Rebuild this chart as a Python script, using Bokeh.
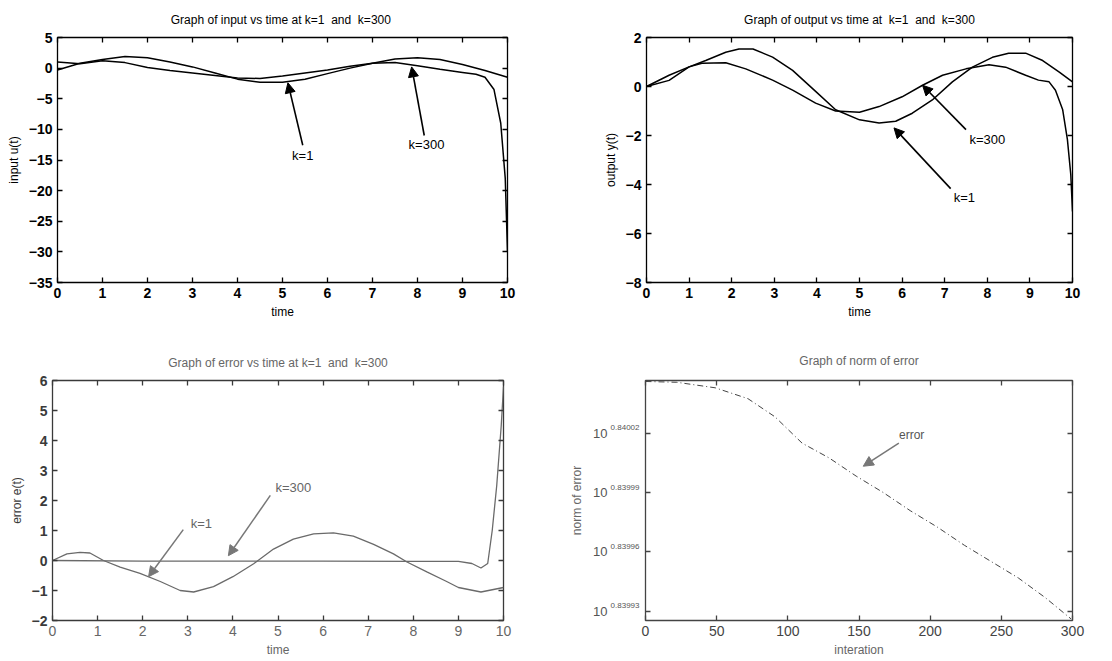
from bokeh.plotting import figure
from bokeh.models import (LinearAxis, LogAxis, Label, Arrow, NormalHead, FixedTicker, Range1d,
                          CustomLabelingPolicy)
from bokeh.layouts import column, row
from bokeh.embed import file_html
from bokeh.resources import INLINE

# ---------------- data ----------------
# input u(t)
t_u1 = [0, 0.5, 1.0, 1.5, 2.0, 2.5, 3.0, 3.5, 4.0, 4.5, 5.0, 5.5, 6.0, 6.5, 7.0, 7.5, 8.0, 8.5, 9.0, 9.5, 10.0]
u_k1 = [-0.3, 0.8, 1.4, 1.9, 1.7, 1.0, 0.2, -0.8, -1.8, -2.3, -2.3, -1.8, -0.9, 0.0, 0.8, 1.5, 1.7, 1.4, 0.6, -0.4, -1.5]
t_u300 = [0, 0.5, 1.0, 1.5, 2.0, 2.5, 3.0, 3.5, 4.0, 4.5, 5.0, 5.5, 6.0, 6.5, 7.0, 7.5, 8.0, 8.5, 9.0, 9.3, 9.5, 9.7, 9.85, 9.95, 10.0]
u_k300 = [1.0, 0.7, 1.2, 0.9, 0.1, -0.4, -0.8, -1.2, -1.6, -1.7, -1.3, -0.8, -0.3, 0.3, 0.8, 0.9, 0.4, -0.2, -0.7, -1.0, -1.5, -3.5, -9.0, -18.0, -30.0]

# output y(t)
t_y1 = [0, 0.53, 1.0, 1.39, 1.86, 2.17, 2.5, 2.96, 3.43, 3.97, 4.44, 5.0, 5.46, 5.85, 6.24, 6.71, 7.18, 7.65, 8.12, 8.5, 8.9, 9.3, 9.69, 10.0]
y_k1 = [0, 0.25, 0.8, 1.06, 1.4, 1.53, 1.53, 1.2, 0.66, -0.2, -0.95, -1.36, -1.49, -1.42, -1.09, -0.55, 0.19, 0.79, 1.19, 1.36, 1.36, 1.06, 0.59, 0.19]
t_y300 = [0, 0.53, 1.0, 1.3, 1.86, 2.33, 2.96, 3.43, 3.97, 4.44, 5.0, 5.46, 6.0, 6.48, 6.95, 7.5, 8.04, 8.43, 8.9, 9.2, 9.45, 9.6, 9.77, 9.88, 9.96, 10.0]
y_k300 = [0, 0.46, 0.8, 0.95, 0.97, 0.72, 0.26, -0.15, -0.68, -1.0, -1.05, -0.82, -0.42, 0.05, 0.46, 0.72, 0.89, 0.79, 0.46, 0.26, 0.19, -0.15, -0.95, -2.16, -3.6, -5.1]

# error e(t)
t_e1 = [0, 0.32, 0.61, 0.83, 1.13, 1.5, 1.94, 2.39, 2.83, 3.13, 3.57, 4.0, 4.46, 4.9, 5.34, 5.79, 6.23, 6.67, 7.12, 7.56, 7.86, 8.3, 8.74, 9.0, 9.5, 10.0]
e_k1 = [0, 0.22, 0.27, 0.25, 0, -0.22, -0.43, -0.7, -1.0, -1.05, -0.87, -0.54, -0.11, 0.38, 0.71, 0.89, 0.92, 0.81, 0.54, 0.22, -0.05, -0.38, -0.7, -0.9, -1.05, -0.9]
t_e300 = [0, 2.0, 4.0, 6.0, 8.0, 9.0, 9.3, 9.5, 9.65, 9.75, 9.85, 9.95, 10.0]
e_k300 = [0, -0.02, -0.02, -0.02, -0.03, -0.03, -0.1, -0.25, -0.1, 1.0, 2.5, 4.5, 5.8]

# norm of error (log10 exponent of the norm)
iteration = [0, 22, 49, 72, 91, 110, 129, 148, 167, 186, 205, 224, 243, 262, 281, 299]
norm_exp = [0.8400462, 0.8400458, 0.8400430, 0.8400375, 0.8400283, 0.8400150, 0.8400075, 0.8399983,
            0.8399900, 0.8399808, 0.8399725, 0.8399633, 0.8399550, 0.8399467, 0.8399367, 0.8399260]
norm_vals = [10 ** e for e in norm_exp]

time_ticks = [0, 1, 2, 3, 4, 5, 6, 7, 8, 9, 10]
u_ticks = [-35, -30, -25, -20, -15, -10, -5, 0, 5]
y_ticks = [-8, -6, -4, -2, 0, 2]
e_ticks = [-2, -1, 0, 1, 2, 3, 4, 5, 6]
iter_ticks = [0, 50, 100, 150, 200, 250, 300]
norm_tick_exp = [0.84002, 0.83999, 0.83996, 0.83993]
norm_tick_text = ["0.84002", "0.83999", "0.83996", "0.83993"]

FONT = "Liberation Sans"
NB = "\u00a0"


def no_labels():
    return CustomLabelingPolicy(code="""
        const ids = [];
        for (const i of indices) ids.push(i);
        for (const i of ids) indices.unset(i);
        return indices;
    """)


def make_fig(w, h, l, r, t, b, xr, yr, xt, yt, title, xlabel, ylabel,
             ink="black", tick_bold=True, log=False, title_standoff=0, ylabel_standoff=5):
    p = figure(width=w, height=h, x_range=Range1d(*xr), y_range=Range1d(*yr),
               y_axis_type="log" if log else "linear",
               output_backend="svg", toolbar_location=None,
               min_border_left=l, min_border_right=r, min_border_top=t, min_border_bottom=b,
               title=title)
    p.grid.visible = False
    p.outline_line_color = ink
    p.outline_line_width = 1.3
    p.outline_line_alpha = 1.0
    p.background_fill_color = "white"
    p.border_fill_color = "white"
    p.title.align = "center"
    p.title.text_font = FONT
    p.title.text_font_size = "12px"
    p.title.text_font_style = "normal"
    p.title.text_color = ink
    p.title.standoff = title_standoff
    p.xaxis.ticker = FixedTicker(ticks=xt)
    p.yaxis.ticker = FixedTicker(ticks=yt)
    p.xaxis.axis_label = xlabel
    p.yaxis.axis_label = ylabel
    for ax in p.xaxis + p.yaxis:
        ax.major_tick_in = 5
        ax.major_tick_out = 0
        ax.minor_tick_line_color = None
        ax.axis_line_color = None
        ax.major_tick_line_color = ink
        ax.major_tick_line_width = 1.3
        ax.major_label_text_font = FONT
        ax.major_label_text_font_size = "14px"
        ax.major_label_text_font_style = "bold" if tick_bold else "normal"
        ax.major_label_text_color = ink
        ax.major_label_standoff = 5
        ax.axis_label_text_font = FONT
        ax.axis_label_text_font_size = "12px"
        ax.axis_label_text_font_style = "normal"
        ax.axis_label_text_color = ink
        ax.axis_label_standoff = ylabel_standoff
    p.xaxis.axis_label_standoff = 4
    # tick marks on the top and right edges (MATLAB box)
    top = LinearAxis(ticker=FixedTicker(ticks=xt))
    right = (LogAxis if log else LinearAxis)(ticker=FixedTicker(ticks=yt))
    for ax in (top, right):
        ax.major_tick_in = 5
        ax.major_tick_out = 0
        ax.minor_tick_line_color = None
        ax.axis_line_color = None
        ax.major_tick_line_color = ink
        ax.major_tick_line_width = 1.3
        ax.major_label_policy = no_labels()
        ax.major_label_standoff = 0
    p.add_layout(top, "above")
    p.add_layout(right, "right")
    return p


def text(p, x, y, s, color="black", size="13px", align="center", baseline="middle"):
    p.add_layout(Label(x=x, y=y, text=s, text_font=FONT, text_font_size=size,
                       text_color=color, text_align=align, text_baseline=baseline))


def arrow(p, x0, y0, x1, y1, color="black", width=1.6, size=10):
    p.add_layout(Arrow(x_start=x0, y_start=y0, x_end=x1, y_end=y1,
                       line_color=color, line_width=width,
                       end=NormalHead(size=size, fill_color=color, line_color=color)))


# ---- top-left: input ----
p1 = make_fig(560, 330, 57, 53, 34, 48, (0, 10), (-35, 5), time_ticks, u_ticks,
              f"Graph of input vs time at  k=1{NB} and{NB} k=300", "time", "input u(t)")
p1.line(t_u1, u_k1, line_color="black", line_width=1.5)
p1.line(t_u300, u_k300, line_color="black", line_width=1.5)
arrow(p1, 5.45, -12.6, 5.12, -2.4)
text(p1, 5.45, -14.2, "k=1")
arrow(p1, 8.15, -11.0, 7.87, 0.2)
text(p1, 8.2, -12.4, "k=300")

# ---- top-right: output ----
p2 = make_fig(552, 330, 86, 40, 37, 45, (0, 10), (-8, 2), time_ticks, y_ticks,
              f"Graph of output vs time at {NB}k=1{NB} and{NB} k=300", "time", "output y(t)")
p2.line(t_y1, y_k1, line_color="black", line_width=1.5)
p2.line(t_y300, y_k300, line_color="black", line_width=1.5)
arrow(p2, 7.5, -1.76, 6.48, 0.05)
text(p2, 8.0, -2.16, "k=300")
arrow(p2, 7.14, -4.17, 5.81, -1.69)
text(p2, 7.46, -4.55, "k=1")

# ---- bottom-left: error ----
p3 = make_fig(560, 331, 52, 57, 44, 41, (0, 10), (-2, 6), time_ticks, e_ticks,
              f"Graph of error vs time at k=1{NB} and{NB} k=300", "time", "error e(t)", ink="#3a3a3a")
p3.title.text_color = "#666666"
p3.xaxis.major_label_text_color = "#666666"
p3.xaxis.major_label_text_font_style = "normal"
p3.xaxis.axis_label_text_color = "#666666"
p3.line(t_e1, e_k1, line_color="#6a6a6a", line_width=1.3)
p3.line(t_e300, e_k300, line_color="#6a6a6a", line_width=1.3)
arrow(p3, 2.9, 1.03, 2.13, -0.54, color="#777777", width=1.5)
text(p3, 3.3, 1.25, "k=1", color="#666666")
arrow(p3, 4.83, 2.17, 3.9, 0.16, color="#777777", width=1.5)
text(p3, 5.34, 2.42, "k=300", color="#666666")

# ---- bottom-right: norm of error (log y) ----
ymin = 10 ** 0.8399252
ymax = 10 ** 0.8400467
norm_ticks = [10 ** e for e in norm_tick_exp]
p4 = make_fig(552, 331, 85, 40, 50, 38, (0, 300), (ymin, ymax), iter_ticks, norm_ticks,
              "Graph of norm of error", "interation", None,
              ink="#444444", tick_bold=False, log=True, title_standoff=3)
p4.title.text_color = "#666666"
p4.xaxis.axis_label_text_color = "#666666"
# inner left axis: tick marks + small superscript exponents
inner = p4.yaxis[0]
inner.major_label_overrides = {v: s + "\n " for v, s in zip(norm_ticks, norm_tick_text)}
inner.major_label_text_font_size = "8px"
inner.major_label_text_color = "#555555"
inner.major_label_standoff = 6
inner.axis_label = None
# outer left axis: the "10" bases and the axis title
outer = LogAxis(ticker=FixedTicker(ticks=norm_ticks))
outer.major_label_overrides = {v: "10" for v in norm_ticks}
outer.major_tick_in = 0
outer.major_tick_out = 0
outer.major_tick_line_color = None
outer.minor_tick_line_color = None
outer.axis_line_color = None
outer.major_label_standoff = 0
outer.major_label_text_font = FONT
outer.major_label_text_font_size = "13px"
outer.major_label_text_color = "#555555"
outer.axis_label = "norm of error"
outer.axis_label_text_font = FONT
outer.axis_label_text_font_size = "12px"
outer.axis_label_text_font_style = "normal"
outer.axis_label_text_color = "#666666"
outer.axis_label_standoff = 6
p4.add_layout(outer, "left")
p4.line(iteration, norm_vals, line_color="#444444", line_width=1.0, line_dash="6 3 1 3")
arrow(p4, 178, 10 ** 0.840015, 153, 10 ** 0.8400033, color="#777777", width=1.5)
text(p4, 187, 10 ** 0.8400192, "error", color="#555555", size="12px")

layout = column(row(p1, p2), row(p3, p4))
open("out.html", "w").write(file_html(layout, INLINE))
